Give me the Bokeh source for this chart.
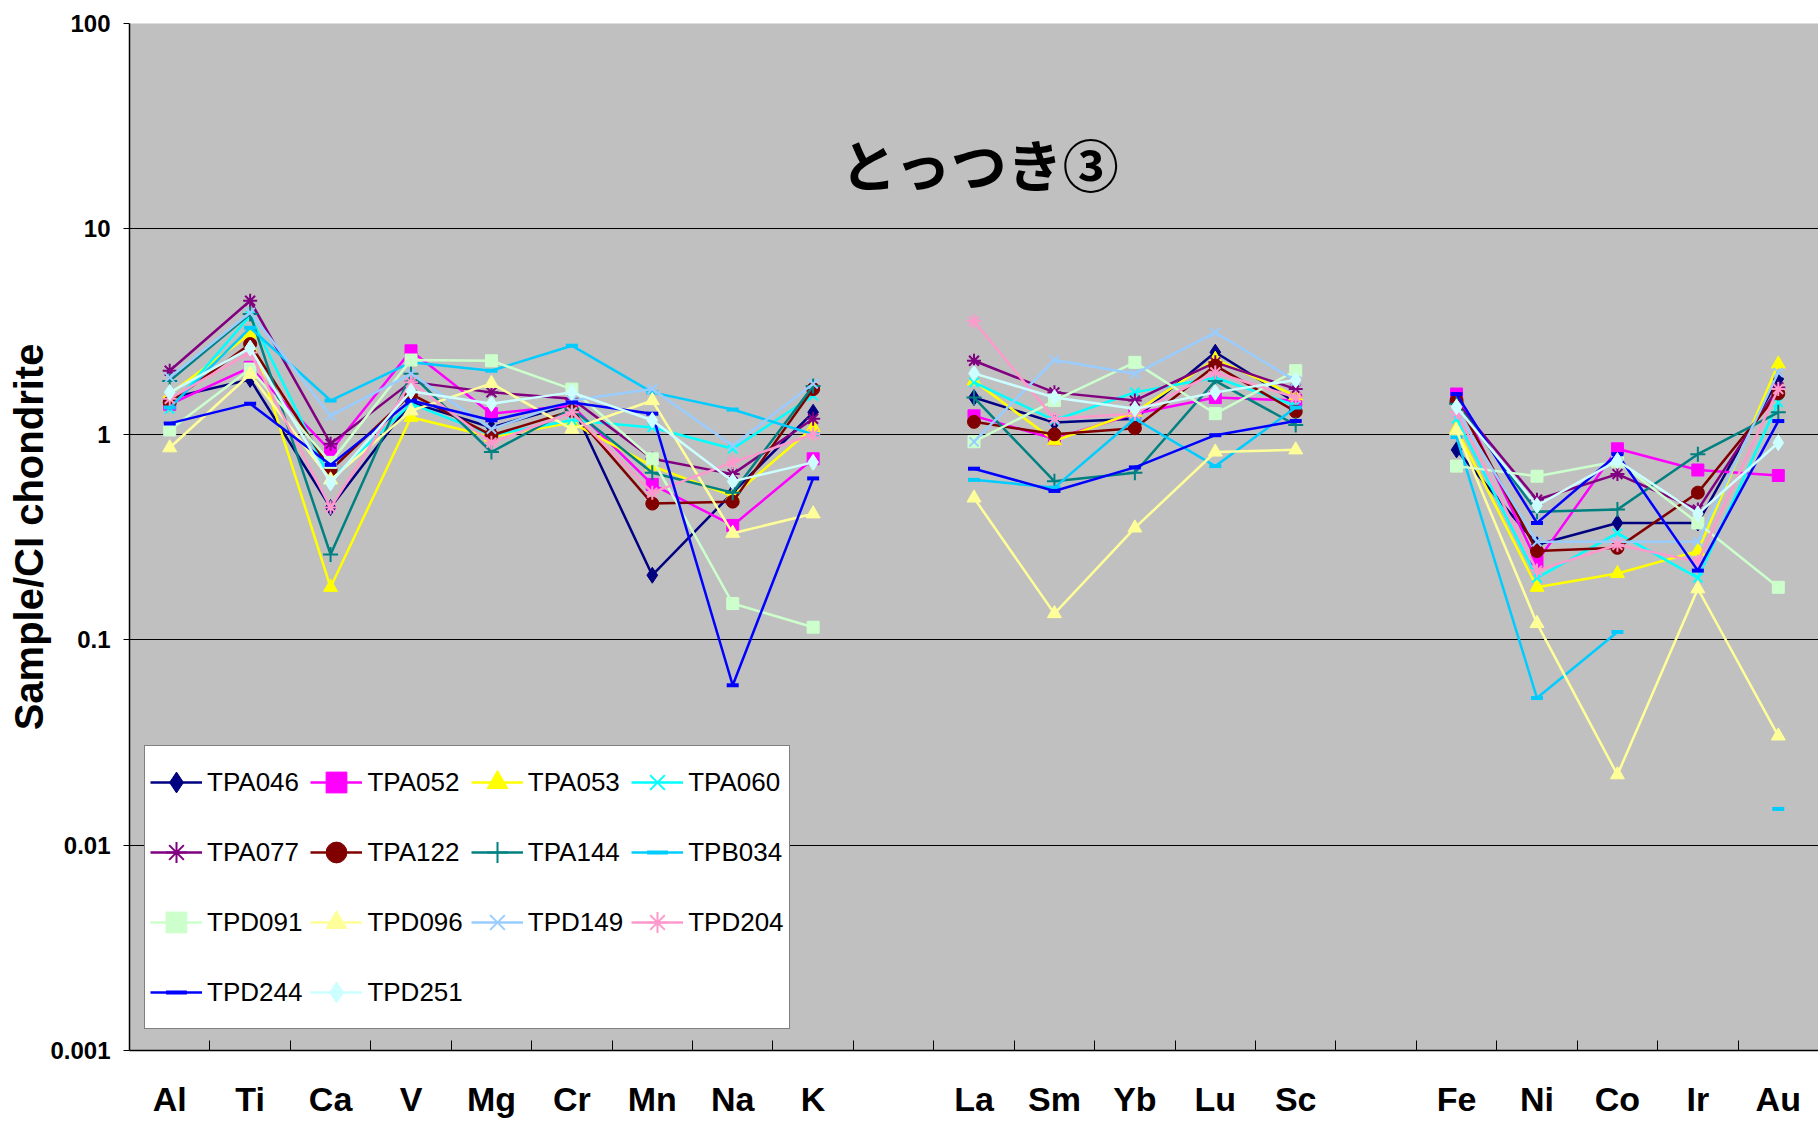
import numpy as np
from bokeh.plotting import figure
from bokeh.models import FixedTicker, Legend, LegendItem, Label, Range1d
from bokeh.embed import file_html
from bokeh.resources import INLINE

# category slots (blank slots separate the element groups)
slots = ["Al", "Ti", "Ca", "V", "Mg", "Cr", "Mn", "Na", "K", "",
         "La", "Sm", "Yb", "Lu", "Sc", "",
         "Fe", "Ni", "Co", "Ir", "Au"]
elements = [s for s in slots if s]

y_ticks = [0.001, 0.01, 0.1, 1, 10, 100]
y_tick_labels = ["0.001", "0.01", "0.1", "1", "10", "100"]

nan = float("nan")
#          Al    Ti    Ca    V     Mg    Cr    Mn    Na    K     La    Sm    Yb    Lu    Sc    Fe    Ni    Co    Ir    Au
TPA046 = [1.50, 1.85, 0.44, 1.43, 1.08, 1.40, 0.206, 0.52, 1.28, 1.51, 1.14, 1.19, 2.51, 1.43, 0.84, 0.29, 0.37, 0.37, 1.86]
TPA052 = [1.40, 2.12, 0.83, 2.55, 1.26, 1.38, 0.57, 0.36, 0.76, 1.23, 0.95, 1.26, 1.51, 1.46, 1.57, 0.24, 0.85, 0.67, 0.63]
TPA053 = [1.57, 3.08, 0.18, 1.21, 0.97, 1.14, 0.70, 0.50, 1.08, 1.82, 0.93, 1.28, 2.32, 1.54, 1.06, 0.18, 0.21, 0.27, 2.20]
TPA060 = [1.33, 3.78, 0.60, 1.41, 0.99, 1.17, 1.08, 0.85, 1.54, 1.79, 1.17, 1.60, 1.89, 1.38, 1.19, 0.20, 0.33, 0.20, 1.43]
TPA077 = [2.04, 4.47, 0.90, 1.80, 1.60, 1.49, 0.76, 0.64, 1.19, 2.28, 1.60, 1.46, 2.24, 1.66, 1.43, 0.48, 0.64, 0.43, 1.69]
TPA122 = [1.43, 2.75, 0.67, 1.57, 0.99, 1.30, 0.46, 0.47, 1.66, 1.15, 1.00, 1.07, 2.16, 1.29, 1.46, 0.27, 0.28, 0.52, 1.58]
TPA144 = [1.82, 3.85, 0.26, 1.97, 0.82, 1.33, 0.65, 0.52, 1.72, 1.51, 0.59, 0.65, 1.82, 1.11, 1.41, 0.42, 0.43, 0.80, 1.28]
TPB034 = [1.35, 3.30, 1.46, 2.24, 2.04, 2.70, 1.60, 1.32, 1.00, 0.60, 0.55, 1.19, 0.70, 1.35, 0.97, 0.052, 0.109, nan, 0.015]
TPD091 = [1.05, 2.08, 0.73, 2.30, 2.28, 1.66, 0.76, 0.15, 0.115, 0.92, 1.46, 2.24, 1.26, 2.04, 0.70, 0.625, 0.74, 0.37, 0.18]
TPD096 = [0.86, 1.96, 0.60, 1.30, 1.77, 1.06, 1.46, 0.33, 0.41, 0.49, 0.134, 0.35, 0.82, 0.84, 1.04, 0.12, 0.022, 0.177, 0.034]
TPD149 = [1.89, 3.92, 1.23, 1.97, 1.06, 1.46, 1.66, 0.88, 1.76, 0.92, 2.30, 1.97, 3.13, 1.82, 1.30, 0.30, 0.30, 0.30, 2.00]
TPD204 = [1.49, 2.50, 0.44, 1.79, 0.91, 1.28, 0.52, 0.73, 1.00, 3.55, 1.19, 1.26, 2.00, 1.51, 1.28, 0.217, 0.29, 0.24, 1.66]
TPD244 = [1.13, 1.41, 0.71, 1.46, 1.17, 1.43, 1.26, 0.060, 0.61, 0.68, 0.53, 0.69, 0.99, 1.16, 1.57, 0.37, 0.80, 0.217, 1.16]
TPD251 = [1.60, 2.63, 0.58, 1.62, 1.41, 1.60, 1.17, 0.59, 0.73, 1.98, 1.51, 1.33, 1.60, 1.84, 1.36, 0.45, 0.745, 0.41, 0.91]

names = ["TPA046", "TPA052", "TPA053", "TPA060", "TPA077", "TPA122", "TPA144",
         "TPB034", "TPD091", "TPD096", "TPD149", "TPD204", "TPD244", "TPD251"]
values = [TPA046, TPA052, TPA053, TPA060, TPA077, TPA122, TPA144,
          TPB034, TPD091, TPD096, TPD149, TPD204, TPD244, TPD251]

# styles
colors = ["#000080", "#FF00FF", "#FFFF00", "#00FFFF", "#800080", "#800000", "#008080",
          "#00CCFF", "#CCFFCC", "#FFFF99", "#99CCFF", "#FF99CC", "#0000FF", "#CCFFFF"]
markers = ["diamond", "square", "triangle", "x", "asterisk", "circle", "cross",
           "dash", "square", "triangle", "x", "asterisk", "dash", "diamond"]
msizes = {"diamond": 16, "square": 12, "triangle": 14, "x": 13, "asterisk": 14,
          "circle": 13, "cross": 15, "dash": 12}
mwidths = {"diamond": 1, "square": 1, "triangle": 1, "x": 2, "asterisk": 2,
           "circle": 1, "cross": 2, "dash": 4}

x_all = list(range(len(slots)))


def on_slots(vals):
    """Spread the element values over all slots; blank slots break the line."""
    it = iter(vals)
    return np.array([next(it) if s else nan for s in slots], dtype=float)


p = figure(width=1818, height=1121, title=None,
           x_range=Range1d(-0.5, len(slots) - 0.5),
           y_range=Range1d(0.001, 100), y_axis_type="log",
           output_backend="svg", toolbar_location=None,
           min_border_left=129, min_border_right=0,
           min_border_top=23, min_border_bottom=71)

p.background_fill_color = "#C0C0C0"
p.border_fill_color = "white"
p.outline_line_color = None

# grid
p.xgrid.grid_line_color = None
p.ygrid.grid_line_color = "black"
p.ygrid.grid_line_width = 1
p.ygrid.minor_grid_line_color = None

# x axis
p.xaxis.ticker = FixedTicker(ticks=x_all,
                             minor_ticks=[i + 0.5 for i in range(len(slots) - 1)])
p.xaxis.major_label_overrides = {i: s for i, s in enumerate(slots)}
p.xaxis.major_tick_in = 0
p.xaxis.major_tick_out = 0
p.xaxis.minor_tick_in = 10
p.xaxis.minor_tick_out = 0
p.xaxis.minor_tick_line_color = "black"
p.xaxis.axis_line_color = "black"
p.xaxis.axis_line_width = 1.5
p.xaxis.major_label_text_font = "Liberation Sans"
p.xaxis.major_label_text_font_style = "bold"
p.xaxis.major_label_text_font_size = "34px"
p.xaxis.major_label_text_color = "black"
p.xaxis.major_label_standoff = 29

# y axis
p.yaxis.ticker = FixedTicker(ticks=y_ticks)
p.yaxis.major_label_overrides = {t: s for t, s in zip(y_ticks, y_tick_labels)}
p.yaxis.major_tick_in = 0
p.yaxis.major_tick_out = 6
p.yaxis.minor_tick_line_color = None
p.yaxis.axis_line_color = "black"
p.yaxis.axis_line_width = 1.5
p.yaxis.major_tick_line_color = "black"
p.yaxis.major_label_text_font = "Liberation Sans"
p.yaxis.major_label_text_font_style = "bold"
p.yaxis.major_label_text_font_size = "24px"
p.yaxis.major_label_text_color = "black"
p.yaxis.major_label_standoff = 13
p.yaxis.axis_label = "Sample/CI chondrite"
p.yaxis.axis_label_text_font = "Liberation Sans"
p.yaxis.axis_label_text_font_style = "bold"
p.yaxis.axis_label_text_font_size = "40px"
p.yaxis.axis_label_text_color = "black"
p.yaxis.axis_label_standoff = -4

items = []
for name, vals, col, mk in zip(names, values, colors, markers):
    y = on_slots(vals)
    ln = p.line(x_all, y, line_color=col, line_width=2.5)
    sc = p.scatter(x_all, y, marker=mk, size=msizes[mk], fill_color=col,
                   line_color=col, line_width=mwidths[mk])
    items.append(LegendItem(label=name, renderers=[ln, sc]))

legend = Legend(items=items, location=(15, 21), orientation="horizontal", ncols=4,
                glyph_width=52, glyph_height=62, label_height=62, label_standoff=5,
                padding=5, spacing=8, margin=0,
                label_text_font="Liberation Sans",
                label_text_font_size="26px", label_text_color="black",
                border_line_color="black", border_line_width=1,
                background_fill_color="white", background_fill_alpha=1.0)
p.add_layout(legend)

title = Label(x=10.08, y=21, text="とっつき③",
              text_align="center", text_baseline="middle",
              text_font="Noto Sans CJK JP", text_font_style="bold",
              text_font_size="56px", text_color="black")
p.add_layout(title)

open("out.html", "w").write(file_html(p, INLINE))
